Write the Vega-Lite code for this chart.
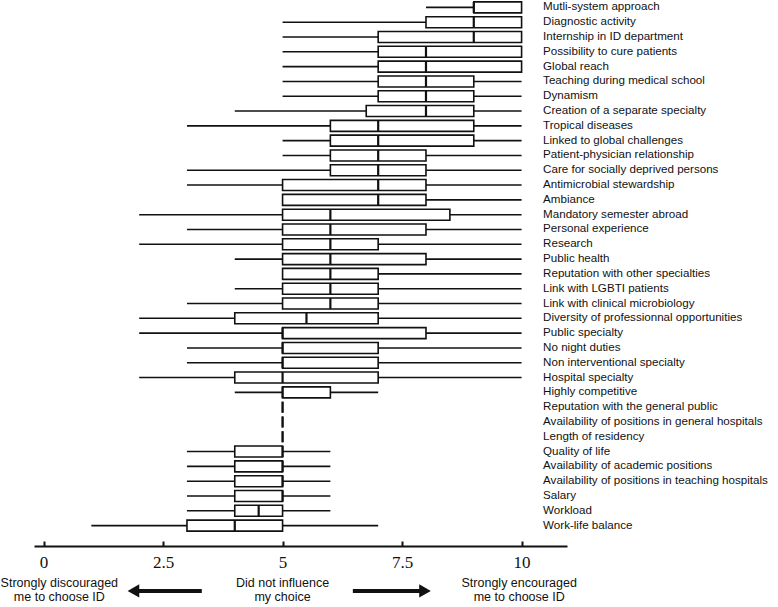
{
  "$schema": "https://vega.github.io/schema/vega-lite/v6.json",
  "autosize": {"type": "pad"},
  "padding": 0,
  "background": "white",
  "config": {"view": {"stroke": null}, "font": "Liberation Sans"},
  "spacing": 42,
  "bounds": "flush",
  "datasets": {
    "box": [
      {"f": "Mutli-system approach", "min": 8, "q1": 9, "med": 9, "q3": 10, "max": 10},
      {"f": "Diagnostic activity", "min": 5, "q1": 8, "med": 9, "q3": 10, "max": 10},
      {"f": "Internship in ID department", "min": 5, "q1": 7, "med": 9, "q3": 10, "max": 10},
      {"f": "Possibility to cure patients", "min": 5, "q1": 7, "med": 8, "q3": 10, "max": 10},
      {"f": "Global reach", "min": 5, "q1": 7, "med": 8, "q3": 10, "max": 10},
      {"f": "Teaching during medical school", "min": 5, "q1": 7, "med": 8, "q3": 9, "max": 10},
      {"f": "Dynamism", "min": 5, "q1": 7, "med": 8, "q3": 9, "max": 10},
      {"f": "Creation of a separate specialty", "min": 4, "q1": 6.75, "med": 8, "q3": 9, "max": 10},
      {"f": "Tropical diseases", "min": 3, "q1": 6, "med": 7, "q3": 9, "max": 10},
      {"f": "Linked to global challenges", "min": 5, "q1": 6, "med": 7, "q3": 9, "max": 10},
      {"f": "Patient-physician relationship", "min": 5, "q1": 6, "med": 7, "q3": 8, "max": 10},
      {"f": "Care for socially deprived persons", "min": 3, "q1": 6, "med": 7, "q3": 8, "max": 10},
      {"f": "Antimicrobial stewardship", "min": 3, "q1": 5, "med": 7, "q3": 8, "max": 10},
      {"f": "Ambiance", "min": 5, "q1": 5, "med": 7, "q3": 8, "max": 10},
      {"f": "Mandatory semester abroad", "min": 2, "q1": 5, "med": 6, "q3": 8.5, "max": 10},
      {"f": "Personal experience", "min": 3, "q1": 5, "med": 6, "q3": 8, "max": 10},
      {"f": "Research", "min": 2, "q1": 5, "med": 6, "q3": 7, "max": 10},
      {"f": "Public health", "min": 4, "q1": 5, "med": 6, "q3": 8, "max": 10},
      {"f": "Reputation with other specialties", "min": 5, "q1": 5, "med": 6, "q3": 7, "max": 10},
      {"f": "Link with LGBTI patients", "min": 4, "q1": 5, "med": 6, "q3": 7, "max": 10},
      {"f": "Link with clinical microbiology", "min": 3, "q1": 5, "med": 6, "q3": 7, "max": 10},
      {"f": "Diversity of professionnal opportunities", "min": 2, "q1": 4, "med": 5.5, "q3": 7, "max": 10},
      {"f": "Public specialty", "min": 2, "q1": 5, "med": 5, "q3": 8, "max": 10},
      {"f": "No night duties", "min": 3, "q1": 5, "med": 5, "q3": 7, "max": 10},
      {"f": "Non interventional specialty", "min": 3, "q1": 5, "med": 5, "q3": 7, "max": 10},
      {"f": "Hospital specialty", "min": 2, "q1": 4, "med": 5, "q3": 7, "max": 10},
      {"f": "Highly competitive", "min": 4, "q1": 5, "med": 5, "q3": 6, "max": 7},
      {"f": "Reputation with the general public", "min": 5, "q1": 5, "med": 5, "q3": 5, "max": 5},
      {"f": "Availability of positions in general hospitals", "min": 5, "q1": 5, "med": 5, "q3": 5, "max": 5},
      {"f": "Length of residency", "min": 5, "q1": 5, "med": 5, "q3": 5, "max": 5},
      {"f": "Quality of life", "min": 3, "q1": 4, "med": 5, "q3": 5, "max": 6},
      {"f": "Availability of academic positions", "min": 3, "q1": 4, "med": 5, "q3": 5, "max": 6},
      {"f": "Availability of positions in teaching hospitals", "min": 3, "q1": 4, "med": 5, "q3": 5, "max": 6},
      {"f": "Salary", "min": 3, "q1": 4, "med": 5, "q3": 5, "max": 6},
      {"f": "Workload", "min": 3, "q1": 4, "med": 4.5, "q3": 5, "max": 6},
      {"f": "Work-life balance", "min": 1, "q1": 3, "med": 4, "q3": 5, "max": 7}
    ]
  },
  "vconcat": [
    {
      "width": 533,
      "height": 533,
      "data": {"name": "box"},
      "encoding": {
        "y": {"field": "f", "type": "nominal", "sort": null, "axis": null,
              "scale": {"paddingInner": 0, "paddingOuter": 0}}
      },
      "layer": [
        {
          "mark": {"type": "rule", "color": "#111", "strokeWidth": 1.6},
          "encoding": {
            "x": {"field": "min", "type": "quantitative",
                  "scale": {"domain": [-0.2, 10.95], "nice": false, "zero": false},
                  "axis": {"values": [0, 2.5, 5, 7.5, 10], "format": ".1~f", "title": null, "grid": false,
                           "offset": 13, "domainColor": "#111", "domainWidth": 1.8,
                           "tickColor": "#111", "tickWidth": 2, "tickSize": -5,
                           "labelFont": "Liberation Serif", "labelFontSize": 17, "labelColor": "#111",
                           "labelPadding": 13}},
            "x2": {"field": "max"}
          }
        },
        {
          "mark": {"type": "bar", "fill": "white", "stroke": "#111", "strokeWidth": 1.6, "size": 11},
          "encoding": {
            "x": {"field": "q1", "type": "quantitative"},
            "x2": {"field": "q3"}
          }
        },
        {
          "mark": {"type": "tick", "color": "#111", "opacity": 1, "thickness": 2.2, "size": 11, "orient": "vertical"},
          "encoding": {"x": {"field": "med", "type": "quantitative"}}
        },
        {
          "mark": {"type": "text", "align": "left", "baseline": "middle", "fontSize": 11.6, "font": "Liberation Sans", "color": "#111"},
          "encoding": {"x": {"datum": 10.45}, "text": {"field": "f"}}
        }
      ]
    },
    {
      "width": 533,
      "height": 30,
      "data": {"values": [{}]},
      "layer": [
        {
          "mark": {"type": "text", "align": "center", "baseline": "middle", "fontSize": 12.5, "lineHeight": 13.5, "color": "#111"},
          "encoding": {
            "x": {"datum": 0.33, "type": "quantitative", "scale": {"domain": [-0.2, 10.95], "nice": false, "zero": false}, "axis": null},
            "y": {"datum": 0.72, "type": "quantitative", "scale": {"domain": [0, 1]}, "axis": null},
            "text": {"value": ["Strongly discouraged", "me to choose ID"]}
          }
        },
        {
          "mark": {"type": "text", "align": "center", "baseline": "middle", "fontSize": 12.5, "lineHeight": 13.5, "color": "#111"},
          "encoding": {"x": {"datum": 5}, "y": {"datum": 0.72}, "text": {"value": ["Did not influence", "my choice"]}}
        },
        {
          "mark": {"type": "text", "align": "center", "baseline": "middle", "fontSize": 12.5, "lineHeight": 13.5, "color": "#111"},
          "encoding": {"x": {"datum": 9.95}, "y": {"datum": 0.72}, "text": {"value": ["Strongly encouraged", "me to choose ID"]}}
        },
        {
          "mark": {"type": "rule", "strokeWidth": 4, "color": "#111"},
          "encoding": {"x": {"datum": 1.9}, "x2": {"datum": 3.31}, "y": {"datum": 0.47}}
        },
        {
          "mark": {"type": "point", "shape": "triangle-left", "filled": true, "size": 180, "color": "#111", "opacity": 1},
          "encoding": {"x": {"datum": 1.88}, "y": {"datum": 0.47}}
        },
        {
          "mark": {"type": "rule", "strokeWidth": 4, "color": "#111"},
          "encoding": {"x": {"datum": 6.47}, "x2": {"datum": 7.95}, "y": {"datum": 0.47}}
        },
        {
          "mark": {"type": "point", "shape": "triangle-right", "filled": true, "size": 180, "color": "#111", "opacity": 1},
          "encoding": {"x": {"datum": 7.98}, "y": {"datum": 0.47}}
        }
      ]
    }
  ]
}
